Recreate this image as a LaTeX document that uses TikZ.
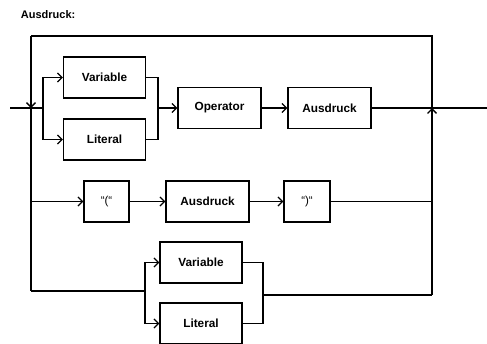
\documentclass[tikz,border=0pt]{standalone}
\usepackage{fontspec}
\setmainfont{Liberation Sans}
\usetikzlibrary{arrows.meta}
\begin{document}
\begin{tikzpicture}[x=1pt,y=-1pt,
  line width=1.25pt,
  box/.style={draw, minimum width=82pt, minimum height=41pt, inner sep=0pt,
    font=\fontsize{11.8}{13}\selectfont\bfseries},
  sbox/.style={draw, minimum width=45pt, minimum height=41pt, inner sep=0pt,
    font=\fontsize{11.5}{13}\selectfont},
  arr/.style={-{Straight Barb[length=4.5pt,width=9pt]}},
  ]
\useasboundingbox (0,0) rectangle (487,343);
\node[font=\fontsize{11}{13}\selectfont\bfseries, anchor=west] (title) at (17,15) {Ausdruck:};
% boxes
\node[box] (var1) at (104.5,77.5) {Variable};
\node[box] (lit1) at (104.5,139.5) {Literal};
\node[box, minimum width=83pt] (op) at (219.5,108) {Operator};
\node[box, minimum width=83pt] (aus1) at (329.5,108) {Ausdruck};
\node[sbox] (lp) at (106.5,201.5) {“(“};
\node[box, minimum width=83pt] (aus2) at (207.5,201.5) {Ausdruck};
\node[sbox, minimum width=46pt] (rp) at (307,201.5) {“)“};
\node[box] (var2) at (201,262.5) {Variable};
\node[box] (lit2) at (201,323.5) {Literal};
% coordinates
\coordinate (in) at (10,108);
\coordinate (out) at (487,108);
\coordinate (tl) at (31,36);
\coordinate (tr) at (432,36);
\coordinate (jl) at (31,108);
\coordinate (jr) at (432,108);
\coordinate (bl) at (31,291);
\coordinate (br) at (432,295);
\coordinate (b1) at (43,108);
\coordinate (m1) at (158,108);
\coordinate (j2) at (31,201.5);
\coordinate (k2) at (432,201.5);
\coordinate (b3) at (145,291);
\coordinate (m3) at (263,295);
% frame
\draw[arr] (tl) -- (jl);
\draw (jl) -- (bl);
\draw (tl) -- (tr) -- (jr);
\draw[arr] (br) -- (jr);
% row 1
\draw (in) -- (b1);
\draw[arr] (b1) |- (var1.west);
\draw[arr] (b1) |- (lit1.west);
\draw (var1.east) -| (m1);
\draw (lit1.east) -| (m1);
\draw[arr] (m1) -- (op.west);
\draw[arr] (op) -- (aus1);
\draw (aus1.east) -- (out);
% row 2
\draw[arr] (j2) -- (lp.west);
\draw[arr] (lp) -- (aus2);
\draw[arr] (aus2) -- (rp);
\draw (rp.east) -- (k2);
% row 3
\draw (bl) -- (b3);
\draw[arr] (b3) |- (var2.west);
\draw[arr] (b3) |- (lit2.west);
\draw (var2.east) -| (m3);
\draw (lit2.east) -| (m3);
\draw (m3) -- (br);
\end{tikzpicture}
\end{document}
